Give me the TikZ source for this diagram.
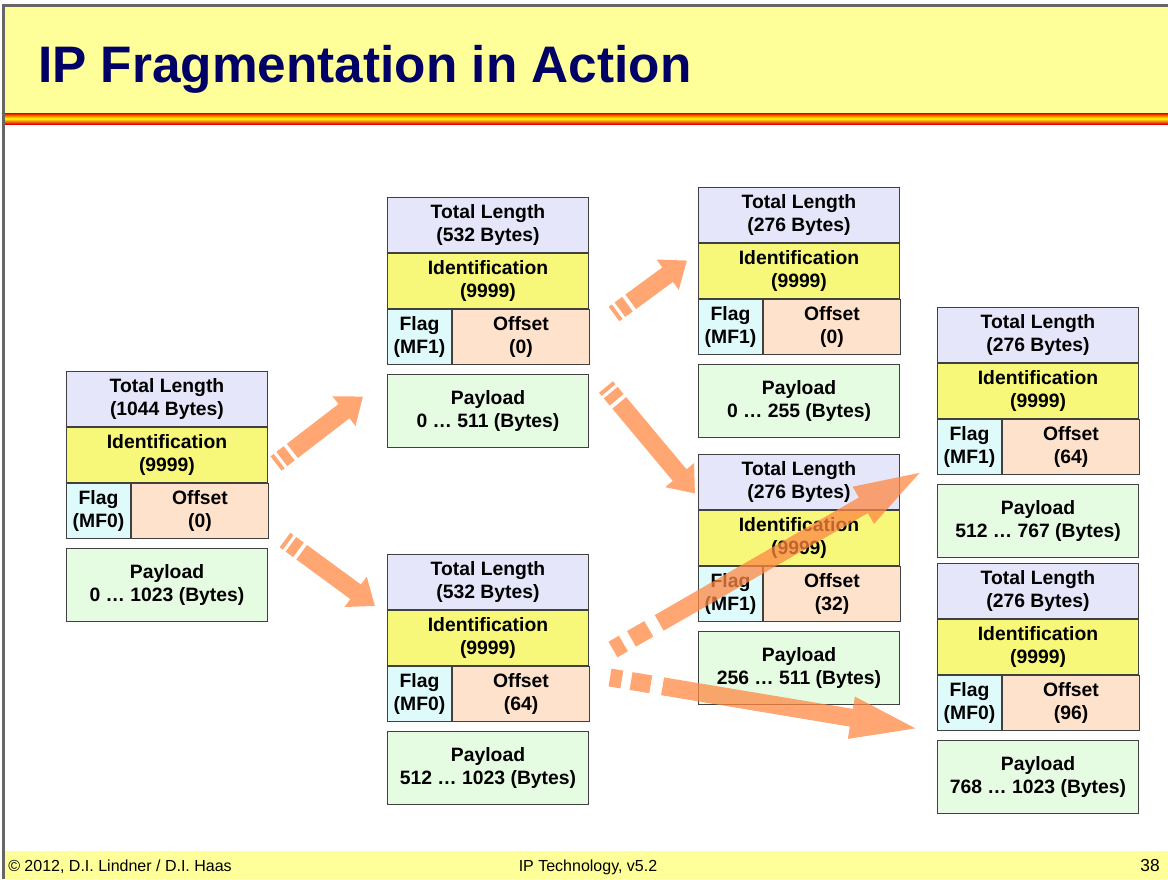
\documentclass[tikz,border=0pt]{standalone}
\usepackage{fontspec}
\setmainfont{Liberation Sans}
\usepackage{xcolor}
\usetikzlibrary{
arrows.meta,
positioning,
shadings
}

\definecolor{framegray}{RGB}{102,102,102}
\definecolor{bandyellow}{RGB}{255,255,153}
\definecolor{titleblue}{RGB}{0,0,102}
\definecolor{tlcol}{RGB}{230,230,250}
\definecolor{idcol}{RGB}{247,247,122}
\definecolor{flagcol}{RGB}{222,250,250}
\definecolor{offcol}{RGB}{255,226,204}
\definecolor{loadcol}{RGB}{230,252,226}
\definecolor{arrowcol}{RGB}{255,136,68}

\tikzset{
  field/.style={draw=black!75, line width=0.75pt, inner sep=0pt, align=center,
    font=\fontsize{14.5}{17.25}\selectfont\bfseries},
  tlbox/.style={field, fill=tlcol, anchor=north west, minimum width=150.75pt, minimum height=41.25pt},
  idbox/.style={field, fill=idcol, minimum width=150.75pt, minimum height=41.25pt},
  flagbox/.style={field, fill=flagcol, minimum width=48pt, minimum height=41.25pt},
  offbox/.style={field, fill=offcol, minimum width=102.75pt, minimum height=41.25pt},
  loadbox/.style={field, fill=loadcol, minimum width=150.75pt, minimum height=54.75pt},
  fragshort/.style={draw=arrowcol, line width=13.5pt,
    dash pattern=on 3pt off 2.5pt on 7pt off 3pt on 400pt,
    -{Triangle[width=27pt,length=18pt]}},
  fraglong/.style={draw=arrowcol, line width=13.5pt,
    dash pattern=on 9pt off 7pt on 15pt off 9pt on 800pt,
    -{Triangle[width=27pt,length=56pt]}},
  footer/.style={inner sep=0pt, font=\fontsize{12}{14}\selectfont}
}

% one IP packet: name, x, y, length, flag, offset, payload from, payload to
\newcommand\ippacket[8]{%
  \node[tlbox] (#1-tl) at (#2,#3) {Total Length\\(#4 Bytes)};
  \node[idbox, below=0pt of #1-tl] (#1-id) {Identification\\(9999)};
  \node[flagbox, below=0pt of #1-id.south west, anchor=north west] (#1-fl) {Flag\\(#5)};
  \node[offbox, right=0pt of #1-fl] (#1-of) {Offset\\(#6)};
  \node[loadbox, below=6.75pt of #1-fl.south west, anchor=north west] (#1-pl) {Payload\\#7 … #8 (Bytes)};
}

\begin{document}
\begin{tikzpicture}[x=0.75pt, y=-0.75pt]
    \useasboundingbox (0,0) rectangle (1168,879);
    % slide frame, title band and footer
    \fill[bandyellow] (5,7) rectangle (1168,113);
    \shade[top color=red!90!black, bottom color=red!90!black, middle color=yellow] (5,113) rectangle (1168,124);
    \fill[bandyellow] (5,851) rectangle (1168,879);
    \fill[framegray] (2,4) rectangle (1168,7);
    \fill[framegray] (2,4) rectangle (5,879);
    \node[anchor=base west, inner sep=0pt, text=titleblue, font=\fontsize{38.5}{44}\selectfont\bfseries] (title) at (38,82) {IP Fragmentation in Action};
    \node[footer, anchor=base west] (copy) at (8,871) {© 2012, D.I. Lindner / D.I. Haas};
    \node[footer, anchor=base] (course) at (588,871) {IP Technology, v5.2};
    \node[footer, anchor=base east, font=\fontsize{13}{15}\selectfont] (page) at (1160,871) {38};

    % packets
    \ippacket{A}{66}{371}{1044}{MF0}{0}{0}{1023}
    \ippacket{B}{387}{197}{532}{MF1}{0}{0}{511}
    \ippacket{C}{387}{554}{532}{MF0}{64}{512}{1023}
    \ippacket{D}{698}{187}{276}{MF1}{0}{0}{255}
    \ippacket{E}{698}{454}{276}{MF1}{32}{256}{511}
    \ippacket{F}{937}{307}{276}{MF1}{64}{512}{767}
    \ippacket{G}{937}{563}{276}{MF0}{96}{768}{1023}

    % fragmentation arrows
    \begin{scope}[transparency group, opacity=0.75]
    \draw[fragshort] ([shift={(8,8.5)}]A-id.east) -- ([shift={(-24,-14.5)}]B-pl.west);
    \draw[fragshort] ([shift={(16,1)}]A-of.south east) -- ([shift={(-12,-4)}]C-tl.south west);
    \draw[fragshort] ([shift={(24,5)}]B-of.north east) -- ([shift={(-11,-10.5)}]D-id.west);
    \draw[fragshort] ([shift={(17,13)}]B-pl.north east) -- ([shift={(-3,11.5)}]E-tl.west);
    \draw[fraglong] ([shift={(24,11.5)}]C-id.east) -- ([shift={(-9,-7)}]F-fl.south west);
    \draw[fraglong] ([shift={(20,-16.5)}]C-of.east) -- ([shift={(-12,-1)}]G-fl.south west);
    \end{scope}
  \end{tikzpicture}
\end{document}
